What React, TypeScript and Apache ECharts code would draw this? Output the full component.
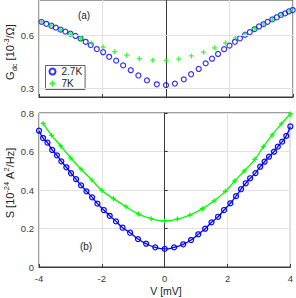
import React, { useEffect, useRef } from "react";
import * as echarts from "echarts";

// ---- Data ----
// Panel (a): G_dc [10^-3/Ω] vs V [mV]
const vTopBlue = [-3.92, -3.77, -3.61, -3.47, -3.32, -3.17, -3.01, -2.85, -2.69, -2.53, -2.37, -2.18, -1.98, -1.79, -1.57, -1.35, -1.11, -0.87, -0.6, -0.29, 0, 0.28, 0.56, 0.79, 1.03, 1.25, 1.45, 1.64, 1.83, 2.0, 2.17, 2.33, 2.49, 2.64, 2.79, 2.93, 3.07, 3.2, 3.35, 3.49, 3.62, 3.75, 3.87, 3.99];
const gTopBlue = [0.676, 0.665, 0.654, 0.643, 0.632, 0.621, 0.609, 0.596, 0.582, 0.563, 0.544, 0.522, 0.504, 0.478, 0.456, 0.429, 0.402, 0.372, 0.344, 0.322, 0.317, 0.326, 0.35, 0.379, 0.409, 0.441, 0.467, 0.494, 0.521, 0.541, 0.563, 0.583, 0.602, 0.618, 0.635, 0.65, 0.663, 0.676, 0.69, 0.702, 0.715, 0.724, 0.735, 0.743];
const vTopGreen = [-3.92, -3.63, -3.32, -3.01, -2.69, -2.34, -1.98, -1.62, -1.24, -0.84, -0.42, 0, 0.4, 0.8, 1.18, 1.53, 1.87, 2.19, 2.49, 2.79, 3.08, 3.35, 3.62, 3.9];
const gTopGreen = [0.676, 0.656, 0.632, 0.607, 0.582, 0.556, 0.533, 0.507, 0.487, 0.468, 0.459, 0.457, 0.465, 0.483, 0.504, 0.529, 0.557, 0.585, 0.609, 0.637, 0.665, 0.689, 0.713, 0.737];

// Panel (b): S [10^-24 A^2/Hz] vs V [mV]
const vBotBlue = [-4.0, -3.87, -3.73, -3.58, -3.43, -3.29, -3.13, -2.98, -2.82, -2.66, -2.49, -2.31, -2.14, -1.94, -1.75, -1.55, -1.34, -1.1, -0.85, -0.59, -0.3, 0, 0.3, 0.59, 0.84, 1.07, 1.29, 1.49, 1.7, 1.89, 2.09, 2.27, 2.43, 2.58, 2.72, 2.89, 3.04, 3.18, 3.32, 3.48, 3.6, 3.74, 3.87, 4.0];
const sBotBlue = [0.708, 0.67, 0.646, 0.608, 0.58, 0.549, 0.518, 0.487, 0.456, 0.424, 0.393, 0.362, 0.329, 0.296, 0.266, 0.237, 0.204, 0.178, 0.145, 0.121, 0.102, 0.094, 0.102, 0.118, 0.14, 0.17, 0.199, 0.232, 0.261, 0.296, 0.331, 0.368, 0.404, 0.435, 0.461, 0.488, 0.521, 0.547, 0.573, 0.599, 0.625, 0.651, 0.681, 0.73];
const vBotGreen = [-3.87, -3.6, -3.31, -2.99, -2.66, -2.32, -2.0, -1.63, -1.23, -0.83, -0.43, 0, 0.4, 0.8, 1.2, 1.57, 1.93, 2.23, 2.53, 2.87, 3.14, 3.42, 3.71, 4.0];
const sBotGreen = [0.746, 0.684, 0.629, 0.566, 0.508, 0.452, 0.398, 0.355, 0.313, 0.275, 0.251, 0.239, 0.249, 0.27, 0.303, 0.344, 0.393, 0.447, 0.499, 0.559, 0.625, 0.686, 0.743, 0.795];

const xTicks = [-4, -2, 0, 2, 4];
const yTopTicks = [0.3, 0.6];
const yBotTicks = [0, 0.2, 0.4, 0.6, 0.8];

const seriesNames = ["2.7K", "7K"];
const xTitle = "V [mV]";
const panelLabels = ["(a)", "(b)"];

const zip = (a: number[], b: number[]) => a.map((v, i) => [v, b[i]]);

const BLUE = "#0000ff";
const GREEN = "#00ff00";
const AXIS = "#3a3a3a";
const GRIDC = "#e2e2e2";
const FONT = "'Liberation Sans', Arial, Helvetica, sans-serif";
const PLUS = "path://M0,5L10,5M5,0L5,10";

export default function App() {
  const ref = useRef<HTMLDivElement>(null);
  useEffect(() => {
    if (!ref.current) return;
    const chart = echarts.init(ref.current, undefined, { renderer: "svg" });

    const xAxisBase = (idx: number, showLabel: boolean) => ({
      type: "value",
      gridIndex: idx,
      min: -4,
      max: 4,
      interval: 2,
      axisLine: { show: true, lineStyle: { color: AXIS, width: 1 } },
      axisTick: { show: true, inside: true, length: 3, lineStyle: { color: AXIS } },
      axisLabel: {
        show: showLabel,
        color: AXIS,
        fontSize: 9.5,
        fontFamily: FONT,
        margin: 6,
      },
      splitLine: { show: true, lineStyle: { color: GRIDC, width: 1 } },
    });

    const option: any = {
      animation: false,
      textStyle: { fontFamily: FONT },
      grid: [
        { left: 39, top: 0, width: 254, height: 97, show: true, borderColor: AXIS, borderWidth: 1, backgroundColor: "transparent" },
        { left: 39, top: 113, width: 254, height: 154, show: true, borderColor: AXIS, borderWidth: 1, backgroundColor: "transparent" },
      ],
      xAxis: [xAxisBase(0, false), xAxisBase(1, true)],
      yAxis: [
        {
          type: "value",
          gridIndex: 0,
          min: 0.25,
          max: 0.8,
          axisLine: { show: true, lineStyle: { color: AXIS } },
          axisTick: { show: true, inside: true, length: 3, customValues: yTopTicks, lineStyle: { color: AXIS } },
          axisLabel: { color: AXIS, fontSize: 9.5, fontFamily: FONT, margin: 5, customValues: yTopTicks, formatter: (v: number) => v.toFixed(1) },
          splitLine: { show: false },
        },
        {
          type: "value",
          gridIndex: 1,
          min: 0,
          max: 0.8,
          interval: 0.2,
          axisLine: { show: true, lineStyle: { color: AXIS } },
          axisTick: { show: true, inside: true, length: 3, lineStyle: { color: AXIS } },
          axisLabel: { color: AXIS, fontSize: 9.5, fontFamily: FONT, margin: 5, formatter: (v: number) => (v === 0 ? "0" : v.toFixed(1)) },
          splitLine: { show: true, lineStyle: { color: GRIDC, width: 1 } },
        },
      ],
      legend: {
        data: [
          { name: seriesNames[0], icon: "circle" },
          { name: seriesNames[1], icon: PLUS },
        ],
        orient: "vertical",
        left: 45.5,
        top: 65.5,
        padding: [1, 3, 1, 3],
        itemGap: 2,
        itemWidth: 8,
        itemHeight: 6,
        itemTextGap: 4,
        backgroundColor: "#ffffff",
        borderColor: AXIS,
        borderWidth: 0.8,
        borderRadius: 0,
        textStyle: { fontSize: 10, color: "#222", fontFamily: FONT },
      },
      series: [
        {
          name: "grid-a",
          type: "line",
          xAxisIndex: 0,
          yAxisIndex: 0,
          data: [],
          silent: true,
          z: 1,
          markLine: {
            silent: true,
            symbol: "none",
            label: { show: false },
            lineStyle: { color: GRIDC, width: 1, type: "solid" },
            data: yTopTicks.map((y) => ({ yAxis: y })),
          },
        },
        {
          name: seriesNames[0],
          type: "scatter",
          xAxisIndex: 0,
          yAxisIndex: 0,
          data: zip(vTopBlue, gTopBlue),
          symbol: "circle",
          symbolSize: 5,
          z: 3,
          itemStyle: { color: "rgba(0,0,0,0)", borderColor: BLUE, borderWidth: 1.2 },
        },
        {
          name: seriesNames[1],
          type: "scatter",
          xAxisIndex: 0,
          yAxisIndex: 0,
          data: zip(vTopGreen, gTopGreen),
          symbol: PLUS,
          symbolSize: 5,
          z: 4,
          itemStyle: { color: "rgba(0,0,0,0)", borderColor: GREEN, borderWidth: 1.2 },
        },
        {
          name: "b-2.7K",
          type: "line",
          xAxisIndex: 1,
          yAxisIndex: 1,
          data: zip(vBotBlue, sBotBlue),
          smooth: true,
          showSymbol: true,
          symbol: "circle",
          symbolSize: 5,
          z: 3,
          lineStyle: { color: BLUE, width: 1.3 },
          itemStyle: { color: "rgba(0,0,0,0)", borderColor: BLUE, borderWidth: 1.2 },
        },
        {
          name: "b-7K",
          type: "line",
          xAxisIndex: 1,
          yAxisIndex: 1,
          data: zip(vBotGreen, sBotGreen),
          smooth: true,
          showSymbol: true,
          symbol: PLUS,
          symbolSize: 5,
          z: 4,
          lineStyle: { color: GREEN, width: 1.3 },
          itemStyle: { color: "rgba(0,0,0,0)", borderColor: GREEN, borderWidth: 1.2 },
        },
      ],
      graphic: [
        {
          type: "text",
          x: 84,
          y: 15,
          style: { text: panelLabels[0], font: `10px ${FONT}`, fill: "#222", align: "center", verticalAlign: "middle" },
        },
        {
          type: "text",
          x: 86,
          y: 246,
          style: { text: panelLabels[1], font: `10px ${FONT}`, fill: "#222", align: "center", verticalAlign: "middle" },
        },
        {
          type: "text",
          x: 166,
          y: 291,
          style: { text: xTitle, font: `10.5px ${FONT}`, fill: "#222", align: "center", verticalAlign: "middle" },
        },
        {
          type: "text",
          x: 10,
          y: 52,
          rotation: Math.PI / 2,
          style: {
            text: "{n|G}{sub|dc}{n| [10}{sup|-3}{n|/Ω]}",
            align: "center",
            verticalAlign: "middle",
            fill: "#222",
            rich: {
              n: { fontSize: 11, fontFamily: FONT, lineHeight: 16, verticalAlign: "middle", fill: "#222" },
              sub: { fontSize: 7.5, fontFamily: FONT, lineHeight: 16, verticalAlign: "bottom", fill: "#222" },
              sup: { fontSize: 7.5, fontFamily: FONT, lineHeight: 16, verticalAlign: "top", fill: "#222" },
            },
          },
        },
        {
          type: "text",
          x: 10,
          y: 183,
          rotation: Math.PI / 2,
          style: {
            text: "{n|S [10}{sup|-24}{n| A}{sup|2}{n|/Hz]}",
            align: "center",
            verticalAlign: "middle",
            fill: "#222",
            rich: {
              n: { fontSize: 11, fontFamily: FONT, lineHeight: 16, verticalAlign: "middle", fill: "#222" },
              sup: { fontSize: 7.5, fontFamily: FONT, lineHeight: 16, verticalAlign: "top", fill: "#222" },
            },
          },
        },
      ],
    };

    chart.setOption(option);
    return () => chart.dispose();
  }, []);

  return (
    <div
      ref={ref}
      style={{ position: "fixed", left: 0, top: 0, width: 296, height: 298, background: "#fff" }}
    />
  );
}
